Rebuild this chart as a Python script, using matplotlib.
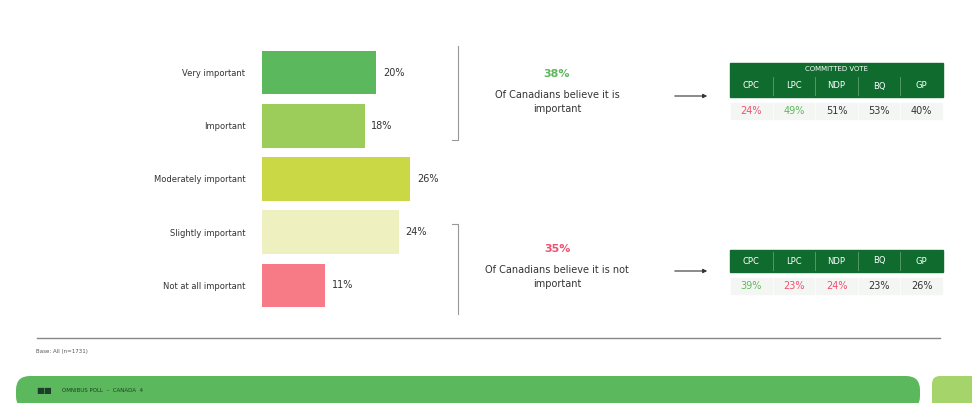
import matplotlib.pyplot as plt
from matplotlib.patches import FancyBboxPatch, Rectangle

# Data
categories = ["Very important", "Important", "Moderately important",
              "Slightly important", "Not at all important"]
shares = [20, 18, 26, 24, 11]
bar_colors = ["#5cb85c", "#9ccc5a", "#c9d844", "#eef0bf", "#f77b86"]

parties = ["CPC", "LPC", "NDP", "BQ", "GP"]
important_by_party = [24, 49, 51, 53, 40]
not_important_by_party = [39, 23, 24, 23, 26]
important_colors = ["#f0506e", "#5cb85c", "#333333", "#333333", "#333333"]
not_important_colors = ["#5cb85c", "#f0506e", "#f0506e", "#333333", "#333333"]

important_total = shares[0] + shares[1]
not_important_total = shares[3] + shares[4]

DARK_GREEN = "#0f6b2e"
GREY_TEXT = "#333333"

W, H = 972, 403


def draw_table(ax, x0, y0, values, colors, with_title):
    """Draws the committed vote table with its header at (x0, y0) in pixels."""
    col_w = 42.6
    width = col_w * len(parties)
    y = y0
    if with_title:
        ax.add_patch(Rectangle((x0, y), width, 12, color=DARK_GREEN))
        ax.text(x0 + width / 2, y + 6, "COMMITTED VOTE", color="white",
                fontsize=5, ha="center", va="center")
        y += 12
    ax.add_patch(Rectangle((x0, y), width, 22, color=DARK_GREEN))
    for i, (party, val, col) in enumerate(zip(parties, values, colors)):
        cx = x0 + col_w * (i + 0.5)
        if i > 0:
            ax.plot([x0 + col_w * i] * 2, [y + 2, y + 20], color="#5f9f6f", lw=0.6)
        ax.text(cx, y + 11, party, color="white", fontsize=6,
                ha="center", va="center")
        ax.add_patch(Rectangle((x0 + col_w * i + 1, y + 28), col_w - 2, 16,
                               color="#f4f6f4"))
        ax.text(cx, y + 36, f"{val}%", color=col, fontsize=7,
                ha="center", va="center")


def main() -> None:
    fig = plt.figure(figsize=(W / 100, H / 100), dpi=100)

    # Pixel-space canvas for the decorative layout
    bg = fig.add_axes([0, 0, 1, 1])
    bg.set_xlim(0, W)
    bg.set_ylim(H, 0)
    bg.axis("off")

    # Bar chart
    ax = fig.add_axes([262 / W, 1 - 312 / H, 171 / W, 266 / H])
    ypos = list(range(len(categories)))
    ax.barh(ypos, shares, height=0.82, color=bar_colors)
    for y, v in zip(ypos, shares):
        ax.text(v + 1.2, y, f"{v}%", va="center", ha="left", fontsize=7,
                color=GREY_TEXT)
    ax.set_xlim(0, 30)
    ax.set_ylim(len(categories) - 0.5, -0.5)
    ax.set_yticks(ypos)
    ax.set_yticklabels(categories, fontsize=6, color=GREY_TEXT)
    ax.tick_params(axis="y", length=0, pad=12)
    ax.set_xticks([])
    for spine in ax.spines.values():
        spine.set_visible(False)

    # Brackets
    bg.plot([458, 458, 452], [46, 140, 140], color="#999999", lw=0.8)
    bg.plot([452, 458, 458], [224, 224, 314], color="#999999", lw=0.8)

    # Summary texts
    bg.text(557, 74, f"{important_total}%", color="#5cb85c", fontsize=8,
            ha="center", va="center", fontweight="bold")
    bg.text(557, 102, "Of Canadians believe it is\nimportant", color=GREY_TEXT,
            fontsize=7, ha="center", va="center", linespacing=1.5)
    bg.text(557, 249, f"{not_important_total}%", color="#f0506e", fontsize=8,
            ha="center", va="center", fontweight="bold")
    bg.text(557, 277, "Of Canadians believe it is not\nimportant", color=GREY_TEXT,
            fontsize=7, ha="center", va="center", linespacing=1.5)

    # Arrows
    for y in (96, 271):
        bg.annotate("", xy=(710, y), xytext=(672, y),
                    arrowprops=dict(arrowstyle="-|>", color="#333333", lw=0.8,
                                    mutation_scale=6))

    # Tables
    draw_table(bg, 730, 63, important_by_party, important_colors, True)
    draw_table(bg, 730, 250, not_important_by_party, not_important_colors, False)

    # Footer
    bg.plot([37, 940], [338, 338], color="#888888", lw=1)
    bg.text(36, 352, "Base: All (n=1731)", fontsize=4, color="#555555",
            ha="left", va="center")
    bg.add_patch(FancyBboxPatch((16, 376), 904, 34,
                                boxstyle="round,pad=0,rounding_size=14",
                                color="#5cb85c", lw=0))
    bg.add_patch(FancyBboxPatch((932, 376), 50, 34,
                                boxstyle="round,pad=0,rounding_size=8",
                                color="#a5d46a", lw=0))
    bg.text(36, 390, "\u25A0\u25A0", fontsize=6, color="#1d3d2a",
            ha="left", va="center")
    bg.text(62, 390, "OMNIBUS POLL  \u2013  CANADA  4", fontsize=4,
            color="#1d3d2a", ha="left", va="center")

    fig.savefig("out.png", dpi=100)


if __name__ == "__main__":
    main()
